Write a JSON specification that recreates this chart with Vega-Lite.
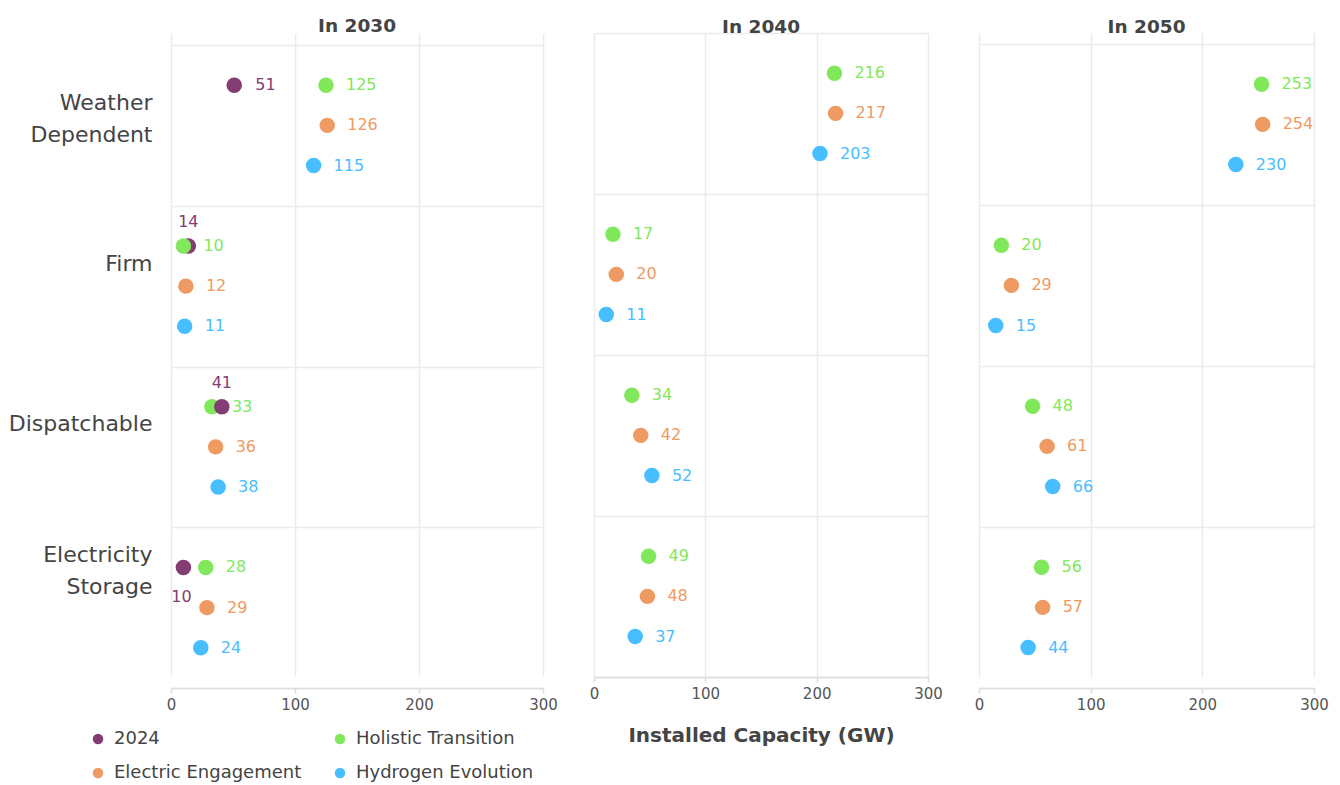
{
  "$schema": "https://vega.github.io/schema/vega-lite/v6.json",
  "background": "white",
  "padding": {"left": 8, "top": 16, "right": 5, "bottom": 2},
  "spacing": 31,
  "datasets": {
    "d": [
      {"panel": "In 2030", "scenario": "2024", "category": "Weather Dependent", "value": 51},
      {"panel": "In 2030", "scenario": "2024", "category": "Firm", "value": 14},
      {"panel": "In 2030", "scenario": "2024", "category": "Dispatchable", "value": 41},
      {"panel": "In 2030", "scenario": "2024", "category": "Electricity Storage", "value": 10},
      {"panel": "In 2030", "scenario": "Holistic Transition", "category": "Weather Dependent", "value": 125},
      {"panel": "In 2030", "scenario": "Holistic Transition", "category": "Firm", "value": 10},
      {"panel": "In 2030", "scenario": "Holistic Transition", "category": "Dispatchable", "value": 33},
      {"panel": "In 2030", "scenario": "Holistic Transition", "category": "Electricity Storage", "value": 28},
      {"panel": "In 2030", "scenario": "Electric Engagement", "category": "Weather Dependent", "value": 126},
      {"panel": "In 2030", "scenario": "Electric Engagement", "category": "Firm", "value": 12},
      {"panel": "In 2030", "scenario": "Electric Engagement", "category": "Dispatchable", "value": 36},
      {"panel": "In 2030", "scenario": "Electric Engagement", "category": "Electricity Storage", "value": 29},
      {"panel": "In 2030", "scenario": "Hydrogen Evolution", "category": "Weather Dependent", "value": 115},
      {"panel": "In 2030", "scenario": "Hydrogen Evolution", "category": "Firm", "value": 11},
      {"panel": "In 2030", "scenario": "Hydrogen Evolution", "category": "Dispatchable", "value": 38},
      {"panel": "In 2030", "scenario": "Hydrogen Evolution", "category": "Electricity Storage", "value": 24},
      {"panel": "In 2040", "scenario": "Holistic Transition", "category": "Weather Dependent", "value": 216},
      {"panel": "In 2040", "scenario": "Holistic Transition", "category": "Firm", "value": 17},
      {"panel": "In 2040", "scenario": "Holistic Transition", "category": "Dispatchable", "value": 34},
      {"panel": "In 2040", "scenario": "Holistic Transition", "category": "Electricity Storage", "value": 49},
      {"panel": "In 2040", "scenario": "Electric Engagement", "category": "Weather Dependent", "value": 217},
      {"panel": "In 2040", "scenario": "Electric Engagement", "category": "Firm", "value": 20},
      {"panel": "In 2040", "scenario": "Electric Engagement", "category": "Dispatchable", "value": 42},
      {"panel": "In 2040", "scenario": "Electric Engagement", "category": "Electricity Storage", "value": 48},
      {"panel": "In 2040", "scenario": "Hydrogen Evolution", "category": "Weather Dependent", "value": 203},
      {"panel": "In 2040", "scenario": "Hydrogen Evolution", "category": "Firm", "value": 11},
      {"panel": "In 2040", "scenario": "Hydrogen Evolution", "category": "Dispatchable", "value": 52},
      {"panel": "In 2040", "scenario": "Hydrogen Evolution", "category": "Electricity Storage", "value": 37},
      {"panel": "In 2050", "scenario": "Holistic Transition", "category": "Weather Dependent", "value": 253},
      {"panel": "In 2050", "scenario": "Holistic Transition", "category": "Firm", "value": 20},
      {"panel": "In 2050", "scenario": "Holistic Transition", "category": "Dispatchable", "value": 48},
      {"panel": "In 2050", "scenario": "Holistic Transition", "category": "Electricity Storage", "value": 56},
      {"panel": "In 2050", "scenario": "Electric Engagement", "category": "Weather Dependent", "value": 254},
      {"panel": "In 2050", "scenario": "Electric Engagement", "category": "Firm", "value": 29},
      {"panel": "In 2050", "scenario": "Electric Engagement", "category": "Dispatchable", "value": 61},
      {"panel": "In 2050", "scenario": "Electric Engagement", "category": "Electricity Storage", "value": 57},
      {"panel": "In 2050", "scenario": "Hydrogen Evolution", "category": "Weather Dependent", "value": 230},
      {"panel": "In 2050", "scenario": "Hydrogen Evolution", "category": "Firm", "value": 15},
      {"panel": "In 2050", "scenario": "Hydrogen Evolution", "category": "Dispatchable", "value": 66},
      {"panel": "In 2050", "scenario": "Hydrogen Evolution", "category": "Electricity Storage", "value": 44}
    ]
  },
  "resolve": {"scale": {"color": "independent"}, "legend": {"color": "independent"}},
  "hconcat": [
    {
      "width": 372,
      "height": 655,
      "title": {"text": "In 2030", "offset": -13},
      "data": {"name": "d"},
      "transform": [{"filter": "datum.panel == 'In 2030'"}],
      "encoding": {
        "y": {
          "field": "category", "type": "nominal",
          "sort": ["Weather Dependent", "Firm", "Dispatchable", "Electricity Storage"],
          "scale": {"paddingInner": 0, "paddingOuter": 0, "range": [12, 655]},
          "axis": {
            "title": null, "ticks": false, "domain": false, "grid": true, "tickBand": "extent",
            "labelFontSize": 22, "labelColor": "#444", "labelPadding": 19, "labelLineHeight": 32,
            "labelOffset": {"expr": "datum.value == 'Weather Dependent' ? -22.5 : datum.value == 'Electricity Storage' ? -53 : -23"},
            "labelExpr": "datum.label == 'Weather Dependent' ? ['Weather', 'Dependent'] : datum.label == 'Electricity Storage' ? ['Electricity', 'Storage'] : datum.label"
          }
        },
        "x": {
          "field": "value", "type": "quantitative",
          "scale": {"domain": [0, 300], "nice": false},
          "axis": {"title": null, "values": [0, 100, 200, 300]}
        },
        "color": {
          "field": "scenario", "type": "nominal",
          "scale": {"domain": ["2024", "Holistic Transition", "Electric Engagement", "Hydrogen Evolution"], "range": ["#843C74", "#80E85A", "#EE9A62", "#47BEFF"]},
          "legend": {
            "title": null, "orient": "none", "legendX": -82, "legendY": 697,
            "columns": 2, "columnPadding": 29, "rowPadding": 16, "direction": "horizontal",
            "symbolType": "circle", "symbolSize": 110, "symbolStrokeWidth": 0, "symbolOpacity": 1,
            "labelFontSize": 18, "labelColor": "#444", "labelOffset": 7, "labelLimit": 300
          }
        }
      },
      "layer": [
        {
          "transform": [{"filter": "datum.scenario == '2024' && datum.category != 'Dispatchable'"}],
          "mark": {"type": "point", "filled": true, "size": 240, "opacity": 1},
          "encoding": {"yOffset": {"datum": "Holistic Transition", "scale": {"type": "point", "domain": ["Holistic Transition", "Electric Engagement", "Hydrogen Evolution"], "padding": 1}}}
        },
        {
          "transform": [{"filter": "datum.scenario != '2024'"}],
          "mark": {"type": "point", "filled": true, "size": 240, "opacity": 1},
          "encoding": {"yOffset": {"field": "scenario"}}
        },
        {
          "transform": [{"filter": "datum.scenario == '2024' && datum.category == 'Dispatchable'"}],
          "mark": {"type": "point", "filled": true, "size": 240, "opacity": 1},
          "encoding": {"yOffset": {"datum": "Holistic Transition"}}
        },
        {
          "transform": [{"filter": "datum.scenario != '2024'"}],
          "mark": {"type": "text", "align": "left", "baseline": "middle", "dx": 20, "fontSize": 16},
          "encoding": {"yOffset": {"field": "scenario"}, "text": {"field": "value", "type": "quantitative"}}
        },
        {
          "transform": [{"filter": "datum.scenario == '2024' && datum.category == 'Weather Dependent'"}],
          "mark": {"type": "text", "align": "left", "baseline": "middle", "dx": 21, "fontSize": 16},
          "encoding": {"yOffset": {"datum": "Holistic Transition"}, "text": {"field": "value", "type": "quantitative"}}
        },
        {
          "transform": [{"filter": "datum.scenario == '2024' && (datum.category == 'Firm' || datum.category == 'Dispatchable')"}],
          "mark": {"type": "text", "align": "center", "baseline": "middle", "dy": -24, "fontSize": 16},
          "encoding": {"yOffset": {"datum": "Holistic Transition"}, "text": {"field": "value", "type": "quantitative"}}
        },
        {
          "transform": [{"filter": "datum.scenario == '2024' && datum.category == 'Electricity Storage'"}],
          "mark": {"type": "text", "align": "center", "baseline": "middle", "dx": -2, "dy": 30, "fontSize": 16},
          "encoding": {"yOffset": {"datum": "Holistic Transition"}, "text": {"field": "value", "type": "quantitative"}}
        }
      ]
    },
    {
      "width": 334,
      "height": 644,
      "title": {"text": "In 2040", "offset": -3},
      "data": {"name": "d"},
      "transform": [{"filter": "datum.panel == 'In 2040'"}],
      "encoding": {
        "y": {
          "field": "category", "type": "nominal",
          "sort": ["Weather Dependent", "Firm", "Dispatchable", "Electricity Storage"],
          "scale": {"paddingInner": 0, "paddingOuter": 0},
          "axis": {"title": null, "ticks": false, "domain": false, "labels": false, "grid": true, "tickBand": "extent"}
        },
        "yOffset": {"field": "scenario", "scale": {"type": "point", "domain": ["Holistic Transition", "Electric Engagement", "Hydrogen Evolution"], "padding": 1}},
        "x": {
          "field": "value", "type": "quantitative",
          "scale": {"domain": [0, 300], "nice": false},
          "axis": {"title": "Installed Capacity (GW)", "values": [0, 100, 200, 300], "titleFontSize": 20, "titleFontWeight": "bold", "titleColor": "#444", "titlePadding": 24}
        },
        "color": {
          "field": "scenario", "type": "nominal",
          "scale": {"domain": ["2024", "Holistic Transition", "Electric Engagement", "Hydrogen Evolution"], "range": ["#843C74", "#80E85A", "#EE9A62", "#47BEFF"]},
          "legend": null
        }
      },
      "layer": [
        {"mark": {"type": "point", "filled": true, "size": 240, "opacity": 1}},
        {
          "mark": {"type": "text", "align": "left", "baseline": "middle", "dx": 20, "fontSize": 16},
          "encoding": {"text": {"field": "value", "type": "quantitative"}}
        }
      ]
    },
    {
      "width": 335,
      "height": 655,
      "title": {"text": "In 2050", "offset": -3},
      "data": {"name": "d"},
      "transform": [{"filter": "datum.panel == 'In 2050'"}],
      "encoding": {
        "y": {
          "field": "category", "type": "nominal",
          "sort": ["Weather Dependent", "Firm", "Dispatchable", "Electricity Storage"],
          "scale": {"paddingInner": 0, "paddingOuter": 0, "range": [11, 655]},
          "axis": {"title": null, "ticks": false, "domain": false, "labels": false, "grid": true, "tickBand": "extent"}
        },
        "yOffset": {"field": "scenario", "scale": {"type": "point", "domain": ["Holistic Transition", "Electric Engagement", "Hydrogen Evolution"], "padding": 1}},
        "x": {
          "field": "value", "type": "quantitative",
          "scale": {"domain": [0, 300], "nice": false},
          "axis": {"title": null, "values": [0, 100, 200, 300]}
        },
        "color": {
          "field": "scenario", "type": "nominal",
          "scale": {"domain": ["2024", "Holistic Transition", "Electric Engagement", "Hydrogen Evolution"], "range": ["#843C74", "#80E85A", "#EE9A62", "#47BEFF"]},
          "legend": null
        }
      },
      "layer": [
        {"mark": {"type": "point", "filled": true, "size": 240, "opacity": 1}},
        {
          "mark": {"type": "text", "align": "left", "baseline": "middle", "dx": 20, "fontSize": 16},
          "encoding": {"text": {"field": "value", "type": "quantitative"}}
        }
      ]
    }
  ],
  "config": {
    "font": "DejaVu Sans",
    "view": {"stroke": null},
    "title": {"fontSize": 18.5, "fontWeight": "bold", "color": "#444", "anchor": "middle"},
    "axis": {
      "labelFontSize": 15, "labelColor": "#555", "labelFlush": false, "gridColor": "#ebebeb", "gridWidth": 1.5,
      "domainColor": "#dddddd", "domainWidth": 1.5, "tickColor": "#dddddd", "tickSize": 5, "tickWidth": 1.5, "labelPadding": 4
    }
  }
}
